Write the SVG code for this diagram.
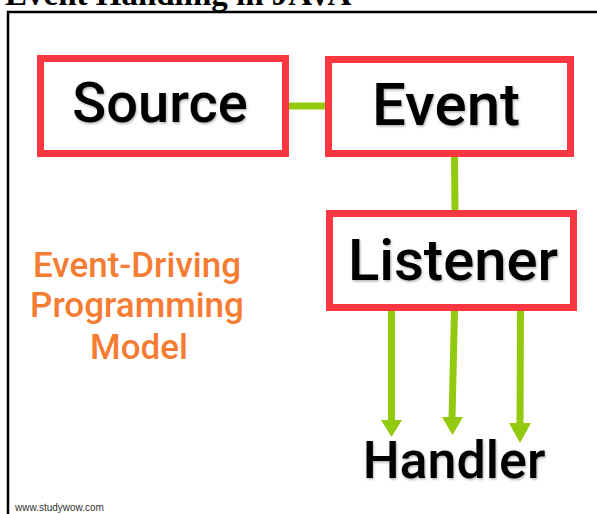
<svg xmlns="http://www.w3.org/2000/svg" width="597" height="514" viewBox="0 0 597 514">
<style>
.box{fill:#fff;stroke:#FA3740;stroke-width:7}
.lbl{font-family:Roboto,"Liberation Sans",sans-serif;font-weight:500;fill:#000;text-anchor:middle;filter:url(#sh)}
.org{font-family:Roboto,"Liberation Sans",sans-serif;font-weight:500;fill:#F57C33;font-size:35px;text-anchor:middle}
.con{stroke:#93C90F;stroke-width:7;fill:none}
.head{fill:#93C90F}
</style>
<defs>
<filter id="sh" x="-10%" y="-10%" width="120%" height="130%">
<feDropShadow dx="1" dy="1.5" stdDeviation="1" flood-color="#000" flood-opacity="0.3"/>
</filter>
</defs>
<rect width="597" height="514" fill="#fff"/>
<text x="5" y="5" font-family="'Liberation Serif',serif" font-weight="bold" font-size="33" fill="#000">Event Handling in JAVA</text>
<rect x="8" y="12" width="600" height="520" fill="none" stroke="#000" stroke-width="2.5"/>
<g id="connectors">
<line class="con" x1="289" y1="106" x2="325" y2="106"/>
<line class="con" x1="454.5" y1="157" x2="455" y2="210"/>
<line class="con" x1="391.5" y1="311" x2="391.5" y2="422"/>
<polygon class="head" points="381,420 402,420 391.5,437"/>
<line class="con" x1="454.5" y1="311" x2="452" y2="419"/>
<polygon class="head" points="442,417 463,417 452.5,435"/>
<line class="con" x1="520.5" y1="311" x2="520" y2="425"/>
<polygon class="head" points="509,423 531,423 520,443"/>
</g>
<g id="source">
<rect class="box" x="40.5" y="58.5" width="245" height="95"/>
<text class="lbl" x="160" y="122" font-size="56">Source</text>
</g>
<g id="event">
<rect class="box" x="328.5" y="59.5" width="242" height="94"/>
<text class="lbl" x="446" y="125" font-size="60">Event</text>
</g>
<g id="listener">
<rect class="box" x="329.5" y="213.5" width="244" height="94"/>
<text class="lbl" x="453" y="280" font-size="58">Listener</text>
</g>
<g id="handler">
<text class="lbl" x="454" y="478" font-size="52">Handler</text>
</g>
<g id="model">
<text class="org" x="137" y="277">Event-Driving</text>
<text class="org" x="137" y="317">Programming</text>
<text class="org" x="139" y="359">Model</text>
</g>
<text x="15" y="511" font-family="'Liberation Sans',Arial,sans-serif" font-size="10" fill="#333">www.studywow.com</text>
</svg>
